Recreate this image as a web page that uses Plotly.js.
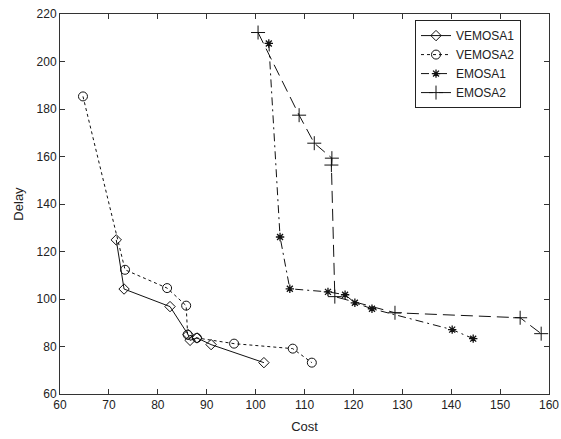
<!DOCTYPE html>
<html>
<head>
<meta charset="utf-8">
<script src="https://cdn.plot.ly/plotly-3.0.1.min.js"></script>
<style>html,body{margin:0;padding:0;background:#fff;}#chart{width:561px;height:439px;}</style>
</head>
<body>
<div id="chart"></div>
<script>
// VEMOSA1
const vemosa1Cost  = [71.5, 73.1, 82.5, 86.2, 86.6, 88.0, 90.9, 101.7];
const vemosa1Delay = [124.9, 104.2, 96.8, 85.0, 82.6, 83.6, 80.8, 73.2];
// VEMOSA2
const vemosa2Cost  = [64.7, 73.3, 81.9, 85.8, 86.1, 88.0, 95.6, 107.6, 111.5];
const vemosa2Delay = [185.3, 112.3, 104.6, 97.2, 85.0, 83.6, 81.2, 79.1, 73.2];
// EMOSA1
const emosa1Cost  = [102.7, 105.0, 107.0, 114.8, 118.3, 120.3, 123.8, 140.2, 144.5];
const emosa1Delay = [207.6, 126.1, 104.3, 103.0, 101.8, 98.4, 95.9, 87.1, 83.3];
// EMOSA2
const emosa2Cost  = [100.5, 108.9, 112.0, 115.6, 115.5, 116.2, 128.5, 154.1, 158.4];
const emosa2Delay = [212.2, 177.4, 165.6, 159.3, 156.4, 101.0, 94.2, 92.1, 85.4];

const seriesNames = ['VEMOSA1', 'VEMOSA2', 'EMOSA1', 'EMOSA2'];
const xTicks = [60, 70, 80, 90, 100, 110, 120, 130, 140, 150, 160];
const yTicks = [60, 80, 100, 120, 140, 160, 180, 200, 220];

const ink = '#111';
const traces = [
  {x: vemosa1Cost, y: vemosa1Delay, name: seriesNames[0], mode: 'lines+markers',
   line: {color: ink, width: 1, dash: 'solid'},
   marker: {symbol: 'diamond-open', size: 8, color: ink, line: {width: 1, color: ink}}},
  {x: vemosa2Cost, y: vemosa2Delay, name: seriesNames[1], mode: 'lines+markers',
   line: {color: ink, width: 1, dash: '3px,3px'},
   marker: {symbol: 'circle-open', size: 9, color: ink, line: {width: 1, color: ink}}},
  {x: emosa1Cost, y: emosa1Delay, name: seriesNames[2], mode: 'lines+markers',
   line: {color: ink, width: 1, dash: '8px,4px,2px,4px'},
   marker: {symbol: 'asterisk-open', size: 7, color: ink, line: {width: 1.3, color: ink}}},
  {x: emosa2Cost, y: emosa2Delay, name: seriesNames[3], mode: 'lines+markers',
   line: {color: ink, width: 1, dash: '12px,6px'},
   marker: {symbol: 'cross-thin-open', size: 10, color: ink, line: {width: 1, color: ink}}}
];

const axisCommon = {
  showgrid: false, zeroline: false, showline: true, linecolor: '#333', linewidth: 1,
  mirror: 'allticks', ticks: 'inside', ticklen: 5, tickcolor: '#333',
  tickfont: {family: 'Liberation Sans, Arial, sans-serif', size: 12, color: '#222'}
};

const layout = {
  width: 561, height: 439,
  margin: {l: 60, r: 12, t: 14, b: 45},
  paper_bgcolor: '#fff', plot_bgcolor: '#fff',
  font: {family: 'Liberation Sans, Arial, sans-serif', size: 12, color: '#222'},
  showlegend: true,
  legend: {x: 0.726, y: 0.984, xanchor: 'left', yanchor: 'top',
    bgcolor: '#fff', bordercolor: '#222', borderwidth: 1,
    font: {family: 'Liberation Sans, Arial, sans-serif', size: 12, color: '#222'},
    tracegroupgap: 0, itemwidth: 30},
  xaxis: Object.assign({}, axisCommon, {range: [60, 160], tickvals: xTicks,
    title: {text: 'Cost', standoff: 10, font: {size: 13, color: '#222'}}}),
  yaxis: Object.assign({}, axisCommon, {range: [60, 220], tickvals: yTicks,
    title: {text: 'Delay', standoff: 10, font: {size: 13, color: '#222'}}})
};

Plotly.newPlot('chart', traces, layout, {staticPlot: true, displayModeBar: false});
</script>
</body>
</html>
